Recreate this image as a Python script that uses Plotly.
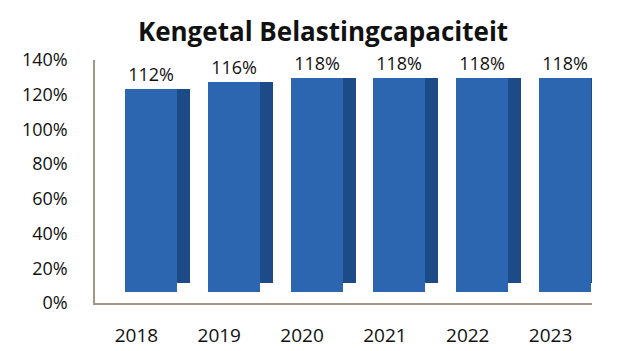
import plotly.graph_objects as go

# ---- data ----
years = ["2018", "2019", "2020", "2021", "2022", "2023"]
values = [112, 116, 118, 118, 118, 118]
labels = ["112%", "116%", "118%", "118%", "118%", "118%"]
tick_vals = [0, 20, 40, 60, 80, 100, 120, 140]
tick_text = ["0%", "20%", "40%", "60%", "80%", "100%", "120%", "140%"]

# ---- layout geometry (pixels) ----
W, H = 624, 351
plot_top, plot_bottom = 60, 303          # y of 140% and 0% labels
plot_left, plot_right = 95, 592
bar_base_px = 292                        # where bars stand (3D floor in front)
bar_scale = 1.81                         # px per % for the bars (front plane)

y2_lo = -(plot_bottom - bar_base_px) / bar_scale
y2_hi = (bar_base_px - plot_top) / bar_scale

x_idx = list(range(len(years)))
cat_px = (plot_right - plot_left) / len(years)
front_off = -11.5 / cat_px
front_w = 52 / cat_px
side_off = front_off + front_w
side_w = 13 / cat_px

FONT = "Open Sans"
TXT = "#111111"

fig = go.Figure()
# invisible trace so the visible x/y axes are drawn
fig.add_trace(go.Scatter(x=[None], y=[None], mode="markers", hoverinfo="skip", showlegend=False))
# side (dark) face
fig.add_trace(go.Bar(
    x=x_idx, y=[v - 5 for v in values], base=[5] * len(values),
    offset=side_off, width=side_w,
    marker=dict(color="#1d4b87", line=dict(width=0)),
    yaxis="y2", hoverinfo="skip", showlegend=False,
))
# front face
fig.add_trace(go.Bar(
    x=x_idx, y=values, offset=front_off, width=front_w,
    marker=dict(color="#2c66b0", line=dict(width=0)),
    text=labels, textposition="outside", cliponaxis=False,
    textfont=dict(family=FONT, size=18, color=TXT),
    yaxis="y2", showlegend=False,
))

fig.update_layout(
    width=W, height=H,
    margin=dict(l=plot_left, r=W - plot_right, t=plot_top, b=H - plot_bottom, pad=0),
    paper_bgcolor="white", plot_bgcolor="white",
    bargap=0,
    title=dict(text="<b>Kengetal Belastingcapaciteit</b>", x=323 / W, xanchor="center",
               y=1 - 32 / H, yanchor="middle",
               font=dict(family=FONT, size=26, color=TXT)),
    xaxis=dict(range=[-0.5, len(years) - 0.5], tickvals=x_idx, ticktext=years,
               showgrid=False, zeroline=False, showline=True, linecolor="#a8958a",
               linewidth=1.5, ticks="", ticklabelstandoff=14, automargin=False,
               tickfont=dict(family=FONT, size=19, color=TXT)),
    yaxis=dict(range=[0, 140], tickvals=tick_vals, ticktext=tick_text,
               showgrid=False, zeroline=False, showline=True, linecolor="#a8958a",
               linewidth=1.5, ticks="", ticklabelstandoff=22, automargin=False,
               tickfont=dict(family=FONT, size=18, color=TXT)),
    yaxis2=dict(range=[y2_lo, y2_hi], overlaying="y", visible=False),
    font=dict(family=FONT),
)

fig.write_html("out.html")
